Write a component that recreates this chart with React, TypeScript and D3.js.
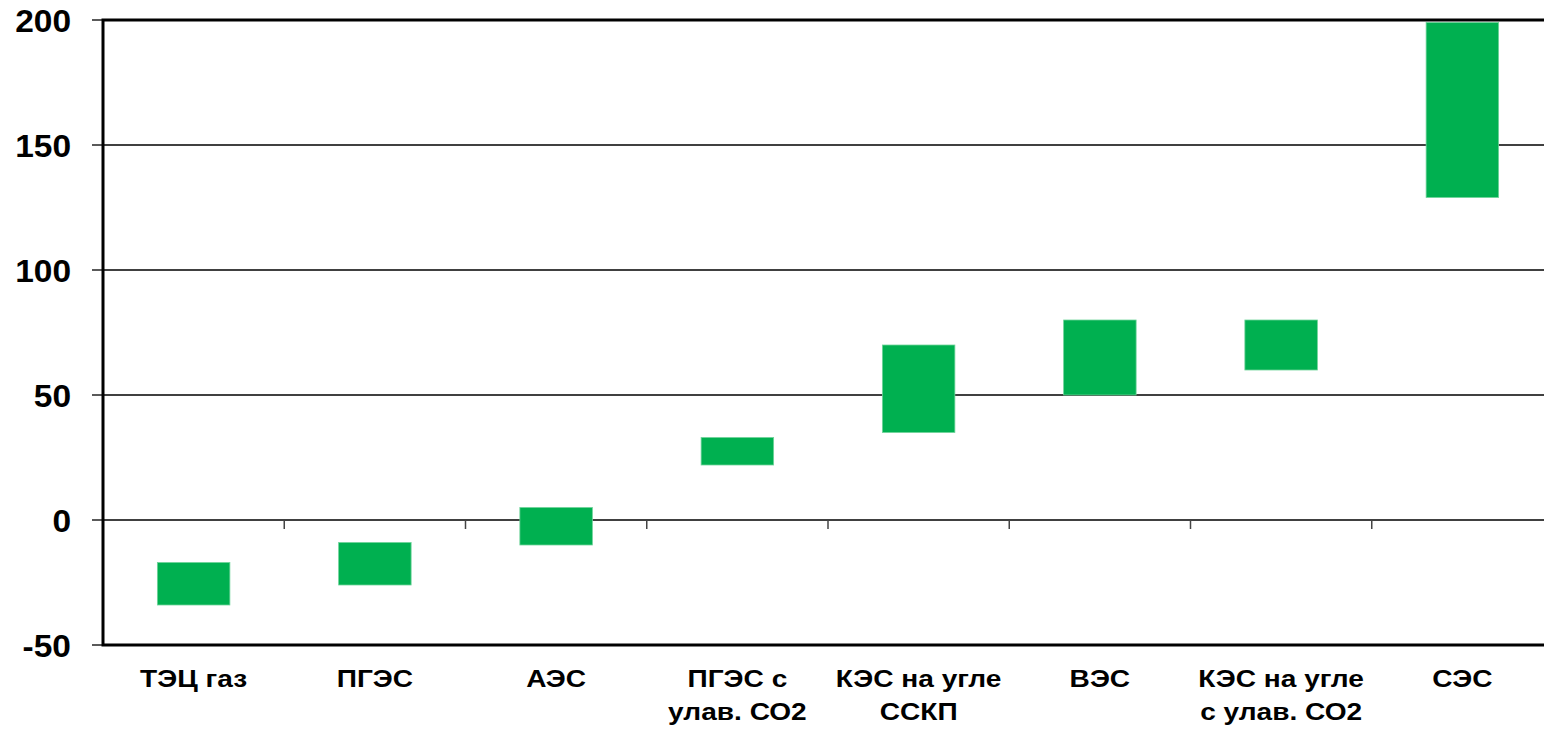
import { useEffect, useRef } from 'react';
import * as d3 from 'd3';

const categories = [
  ['ТЭЦ газ'],
  ['ПГЭС'],
  ['АЭС'],
  ['ПГЭС с', 'улав. СО2'],
  ['КЭС на угле', 'ССКП'],
  ['ВЭС'],
  ['КЭС на угле', 'с улав. СО2'],
  ['СЭС'],
];
const lowValues = [-34, -26, -10, 22, 35, 50, 60, 129];
const highValues = [-17, -9, 5, 33, 70, 80, 80, 199];
const yTicks = [-50, 0, 50, 100, 150, 200];

export default function App() {
  const svgRef = useRef<SVGSVGElement>(null);
  const width = 1544;
  const height = 730;

  useEffect(() => {
    const svg = d3.select(svgRef.current);
    svg.selectAll('*').remove();

    const left = 103;
    const right = 1553; // plot runs a little past the picture edge
    const top = 20;
    const bottom = 645;

    const keys = categories.map((_, i) => String(i));
    const x = d3.scaleBand()
      .domain(keys)
      .range([left, right])
      .paddingInner(0.6)
      .paddingOuter(0.3);
    const step = x.step();

    const y = d3.scaleLinear().domain([-50, 200]).range([bottom, top]);

    // grid lines
    svg.append('g')
      .selectAll('line')
      .data(yTicks.filter(d => d > -50 && d < 200))
      .enter().append('line')
      .attr('x1', left)
      .attr('x2', right)
      .attr('y1', d => y(d))
      .attr('y2', d => y(d))
      .style('stroke', '#000')
      .style('stroke-width', 1.3);

    // category ticks on the zero line
    svg.append('g')
      .selectAll('line')
      .data(d3.range(1, categories.length))
      .enter().append('line')
      .attr('x1', i => left + step * i)
      .attr('x2', i => left + step * i)
      .attr('y1', y(0))
      .attr('y2', y(0) + 9)
      .style('stroke', '#444')
      .style('stroke-width', 1.5);

    // bars
    svg.append('g')
      .selectAll('rect')
      .data(keys)
      .enter().append('rect')
      .attr('x', k => x(k)!)
      .attr('width', x.bandwidth())
      .attr('y', (_, i) => y(highValues[i]))
      .attr('height', (_, i) => y(lowValues[i]) - y(highValues[i]))
      .attr('fill', '#00B050')
      .attr('stroke', '#6fd49a')
      .attr('stroke-width', 0.8);

    // y tick marks
    svg.append('g')
      .selectAll('line')
      .data(yTicks)
      .enter().append('line')
      .attr('x1', left - 11)
      .attr('x2', left)
      .attr('y1', d => y(d))
      .attr('y2', d => y(d))
      .style('stroke', '#000')
      .style('stroke-width', 1.3);

    // frame
    svg.append('path')
      .attr('d', `M${right},${top}H${left}V${bottom}H${right}`)
      .attr('fill', 'none')
      .style('stroke', '#000')
      .style('stroke-width', 3);

    // y labels (original text is drawn a bit wide)
    svg.append('g')
      .selectAll('text')
      .data(yTicks)
      .enter().append('text')
      .attr('transform', d => `translate(71,${y(d) + 12}) scale(1.08,1)`)
      .attr('text-anchor', 'end')
      .style('font-family', 'Liberation Sans, Arial, sans-serif')
      .style('font-size', '31px')
      .style('font-weight', 'bold')
      .text(d => d);

    // x labels
    const labels = svg.append('g')
      .selectAll('text')
      .data(keys)
      .enter().append('text')
      .attr('transform', k => `translate(${x(k)! + x.bandwidth() / 2},687) scale(1.17,1)`)
      .attr('text-anchor', 'middle')
      .style('font-family', 'Liberation Sans, Arial, sans-serif')
      .style('font-size', '24px')
      .style('font-weight', 'bold');

    labels.each(function (_, i) {
      const t = d3.select(this);
      categories[i].forEach((line, j) => {
        t.append('tspan')
          .attr('x', 0)
          .attr('y', j * 33)
          .text(line);
      });
    });
  }, []);

  return (
    <div style={{ position: 'absolute', left: 0, top: 0 }}>
      <svg ref={svgRef} width={width} height={height} style={{ display: 'block', background: '#fff' }} />
    </div>
  );
}
